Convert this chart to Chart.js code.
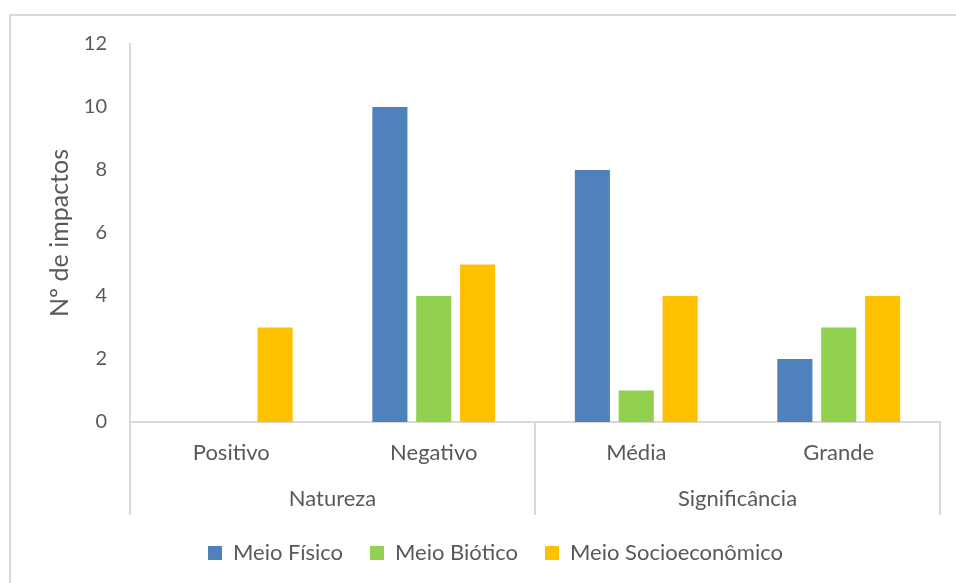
<!DOCTYPE html>
<html>
<head>
<meta charset="utf-8">
<script src="https://cdn.jsdelivr.net/npm/chart.js@4"></script>
<style>
  html, body { margin: 0; padding: 0; background: #fff; }
  #wrap { position: relative; width: 956px; height: 583px; overflow: hidden; }
  #frame { position: absolute; left: 9px; top: 14px; width: 1000px; height: 1000px;
           border-left: 2px solid #D9D9D9; border-top: 2px solid #D9D9D9; box-sizing: border-box; }
  canvas { position: absolute; left: 0; top: 0; }
</style>
</head>
<body>
<div id="wrap">
  <div id="frame"></div>
  <canvas id="c" width="956" height="583"></canvas>
</div>
<script>
const categories = ['Positivo', 'Negativo', 'Média', 'Grande'];
const groups = ['Natureza', 'Significância'];
const groupSizes = [2, 2];
const meioFisico = [0, 10, 8, 2];
const meioBiotico = [0, 4, 1, 3];
const meioSocio = [3, 5, 4, 4];
const yTicks = [0, 2, 4, 6, 8, 10, 12];

const FONT = 'Lato, "Open Sans", sans-serif';
const TXT = '#595959';
const LINE = '#D9D9D9';

const separators = {
  id: 'separators',
  afterDraw(chart) {
    const x = chart.scales.x, x2 = chart.scales.x2;
    const ctx = chart.ctx;
    const half = (x.getPixelForValue(1) - x.getPixelForValue(0)) / 2;
    const bounds = [0];
    let acc = 0;
    groupSizes.forEach(n => { acc += n; bounds.push(acc); });
    ctx.save();
    ctx.strokeStyle = LINE;
    ctx.lineWidth = 2;
    bounds.forEach(b => {
      const px = b < categories.length ? x.getPixelForValue(b) - half : x.getPixelForValue(b - 1) + half;
      ctx.beginPath();
      ctx.moveTo(Math.round(px), x.top);
      ctx.lineTo(Math.round(px), x2.bottom);
      ctx.stroke();
    });
    ctx.restore();
  }
};

new Chart(document.getElementById('c'), {
  type: 'bar',
  data: {
    labels: categories,
    datasets: [
      { label: 'Meio Físico', data: meioFisico, backgroundColor: '#4F81BD', xAxisID: 'x' },
      { label: 'Meio Biótico', data: meioBiotico, backgroundColor: '#92D050', xAxisID: 'x' },
      { label: 'Meio Socioeconômico', data: meioSocio, backgroundColor: '#FFC000', xAxisID: 'x' }
    ]
  },
  options: {
    responsive: false,
    animation: false,
    datasets: { bar: { categoryPercentage: 0.65, barPercentage: 0.8 } },
    layout: { padding: { left: 51, right: 16, top: 44, bottom: 9 } },
    plugins: {
      tooltip: { enabled: false },
      legend: {
        position: 'bottom',
        labels: {
          color: TXT,
          font: { family: FONT, size: 22 },
          boxWidth: 14, boxHeight: 14,
          padding: 27
        }
      }
    },
    scales: {
      y: {
        min: 0, max: 12,
        afterBuildTicks: s => { s.ticks = yTicks.map(v => ({ value: v })); },
        grid: { display: false, drawTicks: false },
        border: { display: true, color: LINE, width: 2 },
        ticks: { color: TXT, font: { family: FONT, size: 20 }, padding: 23 },
        title: { display: true, text: 'Nº de impactos', color: TXT, font: { family: FONT, size: 25 }, padding: { top: -6, bottom: 0 } },
        afterFit: s => { s.width = 79; }
      },
      x: {
        grid: { display: false, drawTicks: false },
        border: { display: true, color: LINE, width: 2 },
        ticks: { color: TXT, font: { family: FONT, size: 22 }, padding: 18, maxRotation: 0 },
        afterFit: s => { s.height = 48; }
      },
      x2: {
        type: 'category',
        labels: groups,
        position: 'bottom',
        offset: true,
        grid: { display: false, drawTicks: false },
        border: { display: false },
        ticks: { color: TXT, font: { family: FONT, size: 22 }, padding: 16, maxRotation: 0 },
        afterFit: s => { s.height = 45; }
      }
    }
  },
  plugins: [separators]
});
</script>
</body>
</html>
